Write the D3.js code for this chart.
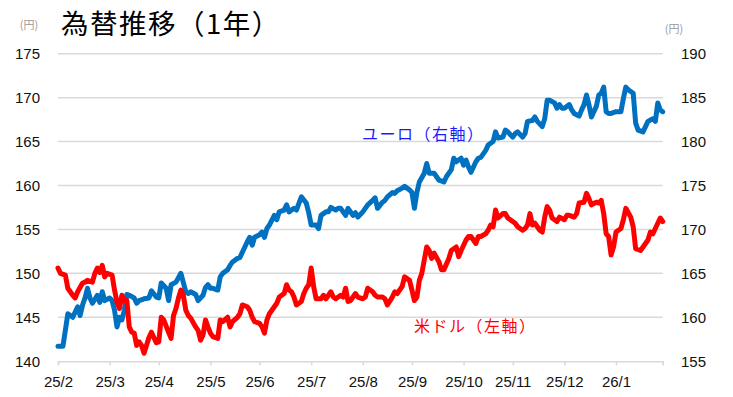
<!DOCTYPE html>
<html>
<head>
<meta charset="utf-8">
<script src="https://cdn.jsdelivr.net/npm/d3@7"></script>
<style>
  body { margin: 0; background: #fff; }
  svg { display: block; }
</style>
</head>
<body>
<div id="chart"></div>
<script>
// month labels and number of trading days in each month
const monthLabels = ["25/2", "25/3", "25/4", "25/5", "25/6", "25/7", "25/8", "25/9", "25/10", "25/11", "25/12", "26/1"];
const monthDays = [21, 20, 21, 20, 21, 21, 20, 21, 20, 21, 21, 19];

const leftTicks = [140, 145, 150, 155, 160, 165, 170, 175];
const rightTicks = [155, 160, 165, 170, 175, 180, 185, 190];

// [trading day, yen]
const usd = [
  [0,150.6],[1,150.0],[3,149.8],[4,148.3],[6,147.5],[7,147.2],[8,147.9],[10,148.9],[11,149.0],[12,149.2],[14,149.0],[15,150.0],[16,150.6],[17,150.1],[18,150.9],[19,149.6],[20,150.0],[22,149.8],[23,148.1],[24,146.7],[25,146.0],[26,147.5],[27,146.9],[28,146.9],[29,143.9],[30,143.3],[31,143.2],[32,141.8],[33,142.2],[34,141.8],[35,140.9],[37,142.7],[38,143.3],[39,142.7],[40,142.1],[41,142.2],[42,145.0],[43,144.7],[45,143.3],[46,142.6],[47,145.2],[48,146.0],[49,147.2],[50,148.1],[51,147.5],[52,145.8],[53,145.2],[54,144.9],[56,143.9],[57,143.5],[58,142.4],[59,143.0],[60,144.7],
  [61,143.9],[62,143.2],[63,142.8],[65,142.6],[66,144.7],[67,144.5],[69,145.0],[70,143.9],[71,144.5],[73,145.0],[74,145.4],[75,146.4],[77,146.2],[78,145.8],[79,145.0],[80,144.5],[82,144.3],[83,143.9],[84,143.2],[85,144.7],[86,145.4],[88,146.2],[89,146.6],[90,147.3],[92,147.7],[93,148.7],[94,148.1],[95,147.9],[96,147.3],[97,146.4],[99,146.8],[100,147.7],[101,148.3],[102,148.7],[103,150.6],[104,148.5],[105,147.1],[107,147.1],[108,147.5],[109,147.1],[111,147.9],[112,147.3],[113,147.1],[115,147.5],[116,147.3],[117,148.3],[118,146.8],[119,146.9],
  [121,147.7],[122,147.3],[124,147.1],[125,147.3],[126,148.3],[128,147.9],[129,147.5],[130,147.3],[132,147.3],[133,147.1],[134,146.4],[136,147.3],[137,147.9],[138,147.7],[140,148.5],[141,149.6],[143,149.2],[144,148.1],[145,146.9],[146,147.3],[147,149.2],[148,150.0],[149,151.5],[150,153.0],[151,152.6],[152,151.7],[153,152.3],[155,151.3],[156,150.4],[157,150.4],[159,151.7],[160,152.6],[162,153.0],[163,151.9],[164,152.6],[166,153.8],[167,154.2],[168,154.2],[170,153.4],[171,154.2],[172,154.2],[174,154.5],[175,154.9],[176,155.5],
  [177,155.3],[178,157.2],[179,156.3],[181,156.8],[182,156.8],[183,156.3],[185,155.9],[186,155.7],[187,155.3],[189,154.9],[190,155.1],[191,155.5],[192,156.8],[193,155.5],[194,155.7],[196,154.9],[197,154.7],[198,156.4],[199,157.6],[200,157.2],[201,156.3],[203,155.9],[204,156.4],[206,156.1],[207,156.6],[208,156.6],[210,156.4],[211,156.8],[212,158.0],[214,158.1],[215,159.1],[216,158.5],[217,157.8],[219,158.1],[220,158.0],[221,158.3],[222,156.8],[223,154.5],[224,154.2],[225,152.1],[226,153.0],[227,154.7],[229,155.1],[230,156.1],[231,157.4],[233,156.4],[234,155.3],[235,152.8],[237,152.6],[238,153.0],[240,153.8],[241,154.7],[242,154.5],[244,155.7],[245,156.3],[246,155.9]
];

const eur = [
  [0,156.7],[2,156.7],[4,160.4],[5,160.2],[6,160.0],[8,161.2],[9,160.2],[10,161.4],[11,162.2],[12,163.3],[13,162.2],[14,161.6],[16,162.5],[17,161.7],[18,162.9],[19,161.9],[21,162.2],[22,161.9],[23,160.8],[24,158.9],[25,160.0],[26,159.7],[27,160.8],[28,162.6],[29,162.5],[31,162.2],[32,161.6],[33,161.9],[35,162.1],[37,162.2],[38,163.0],[40,162.3],[41,162.2],[42,163.9],[44,163.3],[45,161.9],[46,163.7],[48,164.0],[49,164.5],[50,165.0],[52,162.9],[53,162.7],[54,162.9],[56,162.6],[57,161.9],[59,162.5],[60,163.4],
  [61,163.7],[62,163.3],[63,163.3],[65,163.1],[66,164.6],[67,165.0],[69,165.4],[70,165.9],[71,166.3],[73,166.7],[74,166.8],[75,167.4],[77,168.6],[78,169.1],[79,168.2],[80,169.1],[82,169.4],[83,169.7],[84,169.1],[85,170.1],[86,170.5],[88,171.6],[89,171.1],[90,172.0],[92,172.2],[93,172.8],[94,172.0],[96,172.4],[97,172.2],[99,173.7],[101,173.0],[102,171.9],[103,170.5],[105,170.5],[106,170.1],[107,171.6],[109,172.0],[110,172.0],[111,172.5],[113,172.2],[114,172.4],[115,172.4],[117,171.6],[118,172.4],
  [120,171.6],[121,171.9],[122,171.4],[124,172.0],[125,172.4],[126,172.8],[128,173.3],[129,173.6],[130,172.4],[132,173.1],[133,173.3],[134,173.7],[136,174.2],[137,174.1],[138,174.4],[140,174.7],[141,174.9],[143,174.5],[144,174.2],[145,172.4],[146,174.2],[147,175.4],[149,176.4],[150,177.5],[151,176.4],[153,176.4],[154,176.0],[155,175.6],[157,175.4],[158,176.0],[160,176.8],[161,178.1],[162,177.7],[164,178.1],[165,177.3],[166,177.9],[167,177.1],[168,176.5],[170,177.7],[171,178.1],[172,178.2],[174,179.0],[175,179.6],[176,179.8],
  [177,180.0],[178,181.1],[179,180.4],[181,180.5],[182,181.3],[183,181.1],[185,180.5],[186,180.9],[187,181.1],[189,180.5],[190,180.9],[191,182.3],[193,182.4],[194,182.8],[195,182.3],[197,181.7],[198,182.6],[199,184.7],[200,184.7],[202,184.4],[203,183.8],[204,184.2],[205,183.8],[206,183.8],[208,184.2],[209,183.6],[210,183.2],[212,182.9],[213,183.6],[214,184.2],[215,185.3],[216,184.2],[217,182.8],[219,184.0],[220,185.3],[221,185.5],[222,186.2],[223,183.4],[224,183.2],[225,183.2],[227,183.4],[228,183.4],[229,183.4],[230,184.9],[231,186.2],[232,185.9],[234,185.5],[235,182.1],[236,181.3],[238,181.1],[239,181.7],[240,182.3],[242,182.6],[243,182.3],[244,184.4],[245,183.6],[246,183.4]
];

const W = 733, H = 397;
const MARGIN = { TOP: 53.7, BOTTOM: 35.8, LEFT: 58, RIGHT: 70.3 };
const NUM_FONT = "'Liberation Sans', Arial, sans-serif";
const JP_FONT = "'Noto Sans CJK JP', sans-serif";
const GRID = "#d9d9d9";

// tick positions = first trading day of each month, plus the end
const monthStarts = d3.cumsum([0].concat(monthDays));
const totalDays = monthStarts[monthStarts.length - 1];

const x = d3.scaleLinear()
  .domain([0, totalDays])
  .range([MARGIN.LEFT, W - MARGIN.RIGHT]);

const yL = d3.scaleLinear()
  .domain([140, 175])
  .range([H - MARGIN.BOTTOM, MARGIN.TOP]);

const yR = d3.scaleLinear()
  .domain([155, 190])
  .range([H - MARGIN.BOTTOM, MARGIN.TOP]);

const svg = d3.select("#chart")
  .append("svg")
  .attr("width", W)
  .attr("height", H);

// gridlines (left axis)
svg.append("g")
  .selectAll("line")
  .data(leftTicks.slice(1))
  .join("line")
  .attr("x1", x(0))
  .attr("x2", x(totalDays))
  .attr("y1", (d) => yL(d))
  .attr("y2", (d) => yL(d))
  .attr("stroke", GRID)
  .attr("stroke-width", 1.5);

// x axis
const xAxis = d3.axisBottom(x)
  .tickValues(Array.from(monthStarts))
  .tickSize(4)
  .tickFormat((d, i) => monthLabels[i] || "");

const xg = svg.append("g")
  .attr("transform", `translate(0, ${yL(140)})`)
  .call(xAxis);
xg.select(".domain").attr("stroke", GRID).attr("stroke-width", 1.5);
xg.selectAll(".tick line").attr("stroke", GRID).attr("stroke-width", 1.5);
xg.selectAll(".tick text")
  .attr("y", 15)
  .attr("dy", "0.71em")
  .attr("fill", "#111")
  .style("font-family", NUM_FONT)
  .style("font-size", "15px");

// left axis
const yLg = svg.append("g")
  .attr("transform", `translate(${40}, 0)`)
  .call(d3.axisLeft(yL).tickValues(leftTicks).tickSize(0).tickPadding(0));
yLg.select(".domain").remove();
yLg.selectAll("text")
  .attr("fill", "#111")
  .style("font-family", NUM_FONT)
  .style("font-size", "15px");

// right axis
const yRg = svg.append("g")
  .attr("transform", `translate(${681}, 0)`)
  .call(d3.axisRight(yR).tickValues(rightTicks).tickSize(0).tickPadding(0));
yRg.select(".domain").remove();
yRg.selectAll("text")
  .attr("fill", "#111")
  .style("font-family", NUM_FONT)
  .style("font-size", "15px");

// lines
const lineL = d3.line()
  .x((d) => x(d[0]))
  .y((d) => yL(d[1]));

const lineR = d3.line()
  .x((d) => x(d[0]))
  .y((d) => yR(d[1]));

svg.append("path")
  .datum(eur)
  .attr("d", lineR)
  .attr("fill", "none")
  .attr("stroke", "#0070c0")
  .attr("stroke-width", 5)
  .attr("stroke-linejoin", "round")
  .attr("stroke-linecap", "round");

svg.append("path")
  .datum(usd)
  .attr("d", lineL)
  .attr("fill", "none")
  .attr("stroke", "#ff0000")
  .attr("stroke-width", 5)
  .attr("stroke-linejoin", "round")
  .attr("stroke-linecap", "round");

// title and labels
svg.append("text")
  .attr("x", 61)
  .attr("y", 33.5)
  .attr("fill", "#000")
  .attr("letter-spacing", "1.5px")
  .style("font-family", JP_FONT)
  .style("font-size", "27.5px")
  .text("為替推移（1年）");

svg.append("text")
  .attr("x", 29)
  .attr("y", 28.5)
  .attr("text-anchor", "middle")
  .attr("fill", "#9a9a9a")
  .style("font-family", JP_FONT)
  .style("font-size", "11px")
  .text("(円)");

svg.append("text")
  .attr("x", 674)
  .attr("y", 32.5)
  .attr("text-anchor", "middle")
  .attr("fill", "#9a9a9a")
  .style("font-family", JP_FONT)
  .style("font-size", "11px")
  .text("(円)");

svg.append("text")
  .attr("x", 362)
  .attr("y", 140)
  .attr("fill", "#1a1aff")
  .attr("letter-spacing", "1.5px")
  .style("font-family", JP_FONT)
  .style("font-size", "16px")
  .text("ユーロ（右軸）");

svg.append("text")
  .attr("x", 414)
  .attr("y", 332)
  .attr("fill", "#ff0000")
  .attr("letter-spacing", "1.5px")
  .style("font-family", JP_FONT)
  .style("font-size", "16px")
  .text("米ドル（左軸）");
</script>
</body>
</html>
